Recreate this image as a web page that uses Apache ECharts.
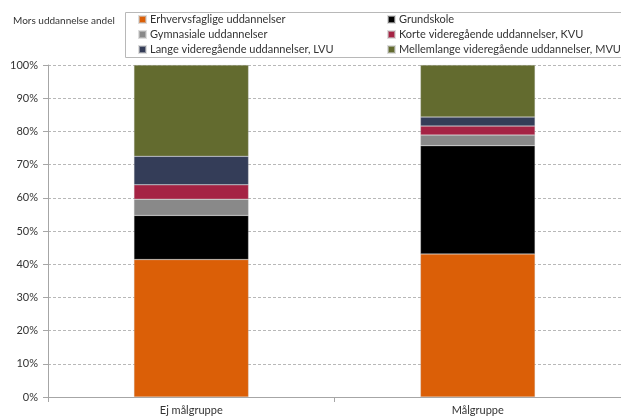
<!DOCTYPE html>
<html><head><meta charset="utf-8">
<script src="https://cdn.jsdelivr.net/npm/echarts@6/dist/echarts.min.js"></script>
<style>html,body{margin:0;padding:0;background:#fff}#c{width:621px;height:417px}</style>
</head><body><div id="c"></div>
<script>
var categories = ['Ej målgruppe', 'Målgruppe'];
var seriesNames = ['Erhvervsfaglige uddannelser', 'Grundskole', 'Gymnasiale uddannelser', 'Korte videregående uddannelser, KVU', 'Lange videregående uddannelser, LVU', 'Mellemlange videregående uddannelser, MVU'];
var erhvervsfaglige = [41.4, 43.1];
var grundskole = [13.3, 32.6];
var gymnasiale = [4.9, 3.2];
var korte = [4.3, 2.7];
var lange = [8.6, 2.7];
var mellemlange = [27.5, 15.7];
var yTicks = [0, 10, 20, 30, 40, 50, 60, 70, 80, 90, 100];
var colors = ['#DB5F07', '#000000', '#898989', '#A52344', '#343D58', '#636B2F'];
var values = [erhvervsfaglige, grundskole, gymnasiale, korte, lange, mellemlange];

var font = 'Lato';
var series = seriesNames.map(function (n, i) {
  return {
    name: n, type: 'bar', stack: 'a', data: values[i], barWidth: '40%',
    itemStyle: { color: colors[i], borderColor: 'rgba(200,200,200,0.6)', borderWidth: 0.5 }
  };
});
var legendText = { fontFamily: font, fontSize: 11, color: '#333', lineHeight: 15, padding: [0, 0, 0, -1] };
var chart = echarts.init(document.getElementById('c'));
chart.setOption({
  animation: false,
  textStyle: { fontFamily: font },
  grid: { left: 48, right: -5, top: 65, bottom: 20 },
  graphic: [
    { type: 'rect', shape: { x: 125.5, y: 12.5, width: 510, height: 45 }, style: { fill: 'none', stroke: '#b8b8b8', lineWidth: 1 } },
    { type: 'text', x: 13, y: 21, style: { text: 'Mors uddannelse andel', fontFamily: font, fontSize: 10, fill: '#333', textVerticalAlign: 'middle' } }
  ],
  legend: [
    { orient: 'vertical', left: 133, top: 7, itemWidth: 7, itemHeight: 7, itemGap: 0,
      icon: 'rect', textStyle: legendText,
      data: [seriesNames[0], seriesNames[2], seriesNames[4]] },
    { orient: 'vertical', left: 382, top: 7, itemWidth: 7, itemHeight: 7, itemGap: 0,
      icon: 'rect', textStyle: legendText,
      data: [seriesNames[1], seriesNames[3], seriesNames[5]] }
  ],
  xAxis: {
    type: 'category', data: categories,
    axisLine: { lineStyle: { color: '#a6a6a6' } },
    axisTick: { show: true, length: 5, lineStyle: { color: '#a6a6a6' } },
    axisLabel: { fontFamily: font, fontSize: 11, color: '#333', margin: 8 }
  },
  yAxis: {
    type: 'value', min: 0, max: 100, interval: 10,
    axisLine: { show: true, lineStyle: { color: '#a6a6a6' } },
    axisTick: { show: true, length: 5, lineStyle: { color: '#a6a6a6' } },
    axisLabel: { fontFamily: font, fontSize: 11, color: '#333', margin: 10,
      formatter: function (v) { return yTicks.indexOf(v) >= 0 ? v + '%' : ''; } },
    splitLine: { lineStyle: { color: '#b8b8b8', type: [3, 2] } }
  },
  series: series
});
</script></body></html>
